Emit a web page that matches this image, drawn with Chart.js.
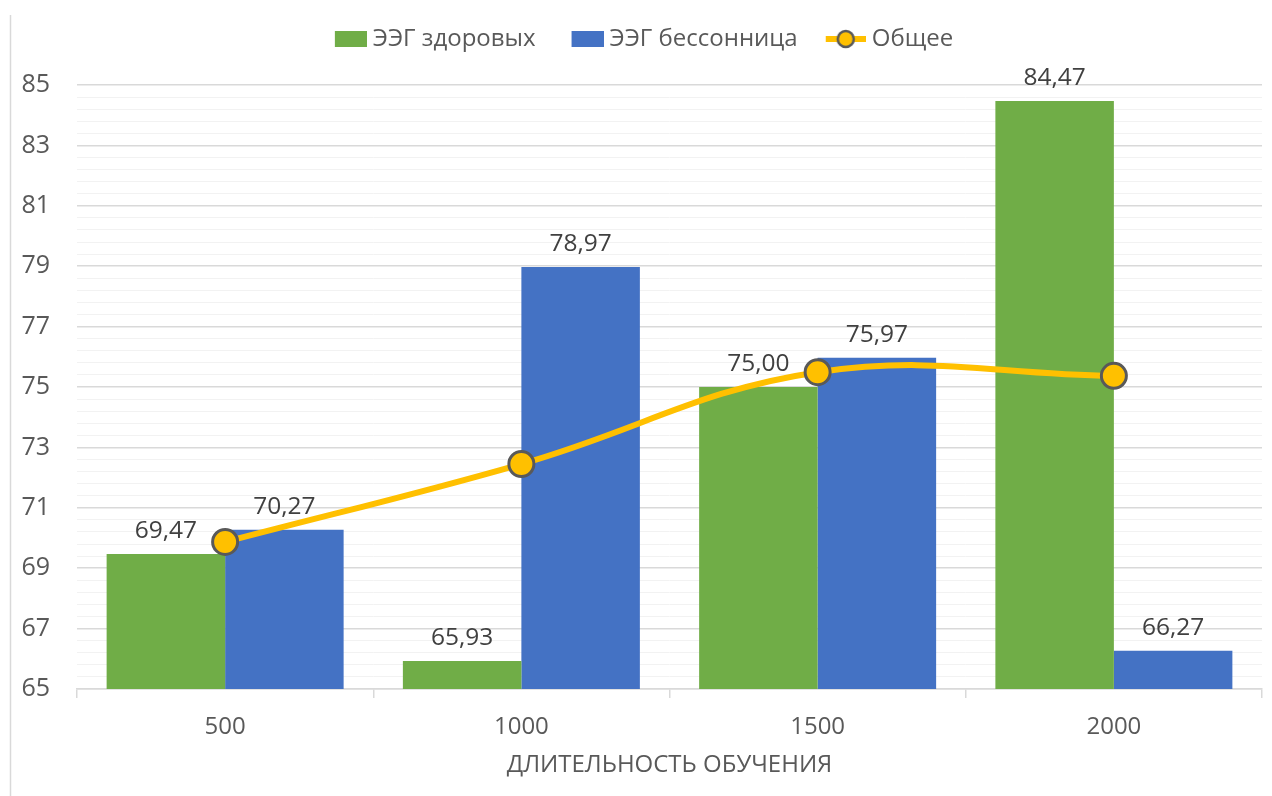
<!DOCTYPE html>
<html lang="ru">
<head>
<meta charset="utf-8">
<title>ЭЭГ</title>
<script src="https://cdn.jsdelivr.net/npm/chart.js@4.4.1/dist/chart.umd.min.js"></script>
<style>
  html, body { margin: 0; padding: 0; background: #ffffff; }
  canvas { display: block; }
</style>
</head>
<body>
<canvas id="eegChart" width="1272" height="796"></canvas>
<script>
// chart data
const durations = ['500', '1000', '1500', '2000'];
const healthyValues = [69.47, 65.93, 75.00, 84.47];
const insomniaValues = [70.27, 78.97, 75.97, 66.27];
const totalValues = [69.87, 72.45, 75.49, 75.37];

const seriesNames = ['ЭЭГ здоровых', 'ЭЭГ бессонница', 'Общее'];
const axisTitle = 'ДЛИТЕЛЬНОСТЬ ОБУЧЕНИЯ';

const GREEN = '#70AD47';
const BLUE = '#4472C4';
const YELLOW = '#FFC000';
const FONT = "'Open Sans', 'Noto Sans', sans-serif";

// legend markers: 64px wide canvases, the visible part sits on the right
// so the left half works as spacing between legend items
function makeBox(color) {
    const c = document.createElement('canvas');
    c.width = 64; c.height = 16;
    const g = c.getContext('2d');
    g.fillStyle = color;
    g.fillRect(32, 0, 32, 16);
    return c;
}
function makeLineMarker() {
    const c = document.createElement('canvas');
    c.width = 64; c.height = 22;
    const g = c.getContext('2d');
    g.strokeStyle = YELLOW;
    g.lineWidth = 6;
    g.beginPath(); g.moveTo(24, 11); g.lineTo(64, 11); g.stroke();
    g.fillStyle = YELLOW;
    g.strokeStyle = '#595959';
    g.lineWidth = 2.5;
    g.beginPath(); g.arc(44, 11, 8, 0, Math.PI * 2); g.fill(); g.stroke();
    return c;
}
const markers = [makeBox(GREEN), makeBox(BLUE), makeLineMarker()];

function isMajor(v) {
    const k = (v - 65) / 2;
    return Math.abs(k - Math.round(k)) < 1e-6;
}

// value labels over the bars
const barLabels = {
    id: 'barLabels',
    afterDatasetsDraw(chart) {
        const ctx = chart.ctx;
        ctx.save();
        ctx.font = '24.5px ' + FONT;
        ctx.fillStyle = '#404040';
        ctx.textAlign = 'center';
        ctx.textBaseline = 'middle';
        chart.data.datasets.forEach((ds, i) => {
            if (ds.type === 'line') return;
            chart.getDatasetMeta(i).data.forEach((bar, j) => {
                const txt = ds.data[j].toFixed(2).replace('.', ',');
                ctx.fillText(txt, bar.x, bar.y - 23);
            });
        });
        ctx.restore();
    }
};

// thin frame line on the left edge
const frameLine = {
    id: 'frameLine',
    beforeDraw(chart) {
        const ctx = chart.ctx;
        ctx.save();
        ctx.strokeStyle = '#d9d9d9';
        ctx.lineWidth = 1.5;
        ctx.beginPath();
        ctx.moveTo(10.5, 15);
        ctx.lineTo(10.5, chart.height);
        ctx.stroke();
        ctx.restore();
    }
};

const data = {
    labels: durations,
    datasets: [
        {
            label: seriesNames[0],
            data: healthyValues,
            backgroundColor: GREEN,
            categoryPercentage: 0.8,
            barPercentage: 1.0,
            order: 2
        },
        {
            label: seriesNames[1],
            data: insomniaValues,
            backgroundColor: BLUE,
            categoryPercentage: 0.8,
            barPercentage: 1.0,
            order: 2
        },
        {
            type: 'line',
            label: seriesNames[2],
            data: totalValues,
            borderColor: YELLOW,
            borderWidth: 6,
            tension: 0.4,
            pointRadius: 12.5,
            pointBackgroundColor: YELLOW,
            pointBorderColor: '#595959',
            pointBorderWidth: 3,
            order: 1
        }
    ]
};

const config = {
    type: 'bar',
    data: data,
    options: {
        responsive: false,
        animation: false,
        layout: {
            autoPadding: false,
            padding: { top: 17, right: 10, bottom: 12, left: 0 }
        },
        plugins: {
            tooltip: { enabled: false },
            // empty title placed under the legend, only used as a gap
            title: {
                display: true,
                text: '',
                weight: 500,
                padding: 0,
                font: { size: 24, lineHeight: 1 }
            },
            legend: {
                position: 'top',
                labels: {
                    font: { family: FONT, size: 24 },
                    color: '#595959',
                    usePointStyle: true,
                    pointStyleWidth: 52,
                    padding: 10,
                    sort: (a, b) => a.datasetIndex - b.datasetIndex,
                    generateLabels(chart) {
                        return chart.data.datasets.map((ds, i) => ({
                            text: ds.label,
                            datasetIndex: i,
                            pointStyle: markers[i],
                            fillStyle: 'transparent',
                            strokeStyle: 'transparent',
                            lineWidth: 0,
                            fontColor: '#595959',
                            hidden: false
                        }));
                    }
                }
            }
        },
        scales: {
            x: {
                grid: {
                    drawOnChartArea: false,
                    drawTicks: true,
                    tickLength: 9,
                    color: '#d9d9d9',
                    lineWidth: 1.5
                },
                border: { color: '#d9d9d9', width: 1.5 },
                ticks: {
                    font: { family: FONT, size: 24 },
                    color: '#595959',
                    padding: 15
                },
                title: {
                    display: true,
                    text: axisTitle,
                    font: { family: FONT, size: 24 },
                    color: '#595959'
                },
                afterFit(scale) {
                    scale.height = 95;
                    scale.paddingLeft = 0;
                    scale.paddingRight = 0;
                }
            },
            y: {
                min: 65,
                max: 85,
                grid: {
                    drawTicks: false,
                    color: (c) => (c.tick && isMajor(c.tick.value)) ? '#d9d9d9' : '#f2f2f2',
                    lineWidth: (c) => (c.tick && isMajor(c.tick.value)) ? 1.5 : 1
                },
                border: { display: false },
                ticks: {
                    stepSize: 0.4,
                    autoSkip: false,
                    padding: 27,
                    font: { family: FONT, size: 25 },
                    color: '#595959',
                    callback: (v) => isMajor(v) ? String(Math.round(v)) : ''
                },
                afterFit(scale) { scale.width = 77; }
            }
        }
    },
    plugins: [barLabels, frameLine]
};

const eegChart = new Chart(document.getElementById('eegChart'), config);
</script>
</body>
</html>
